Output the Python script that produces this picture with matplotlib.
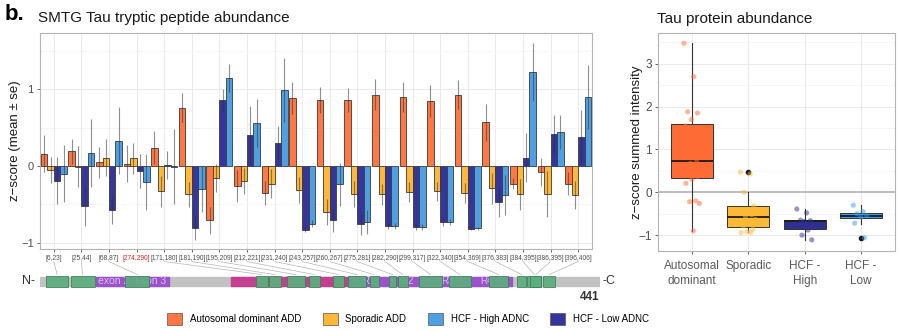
import matplotlib
matplotlib.use("Agg")
import matplotlib.pyplot as plt
from matplotlib.patches import Rectangle, Patch, ConnectionPatch
import numpy as np

plt.rcParams['font.family'] = ['Liberation Sans', 'DejaVu Sans']

# ---------------- peptide-level data ----------------
peptides = ["[6,23]", "[25,44]", "[68,87]", "[274,290]", "[171,180]", "[181,190]",
            "[195,209]", "[212,221]", "[231,240]", "[243,257]", "[260,267]",
            "[275,281]", "[282,290]", "[299,317]", "[322,340]", "[354,369]",
            "[376,383]", "[384,395]", "[386,395]", "[396,406]"]
pep_start = [6, 25, 68, 274, 171, 181, 195, 212, 231, 243, 260, 275, 282, 299, 322, 354, 376, 384, 386, 396]
pep_end = [23, 44, 87, 290, 180, 190, 209, 221, 240, 257, 267, 281, 290, 317, 340, 369, 383, 395, 395, 406]
pep_on_map = [True, True, True, False] + [True] * 16
pep_label_color = ["#4D4D4D"] * 3 + ["#E8231F"] + ["#4D4D4D"] * 16

ad_mean = [0.16, 0.19, 0.05, 0.03, 0.24, 0.76, -0.71, -0.26, -0.35, 0.89, 0.86, 0.86, 0.93, 0.90, 0.85, 0.93, 0.57, -0.23, -0.08, -0.23]
ad_se = [0.24, 0.16, 0.20, 0.24, 0.21, 0.19, 0.17, 0.21, 0.16, 0.21, 0.17, 0.16, 0.20, 0.20, 0.21, 0.19, 0.24, 0.07, 0.18, 0.15]
sp_mean = [-0.05, -0.01, 0.11, 0.10, -0.33, -0.37, -0.16, -0.19, -0.23, -0.31, -0.60, -0.36, -0.37, -0.34, -0.33, -0.35, -0.29, -0.37, -0.37, -0.38]
sp_se = [0.17, 0.27, 0.24, 0.20, 0.20, 0.16, 0.18, 0.17, 0.19, 0.17, 0.17, 0.17, 0.14, 0.13, 0.12, 0.13, 0.20, 0.20, 0.30, 0.18]
low_mean = [-0.19, -0.52, -0.57, -0.07, 0.01, -0.81, 0.86, 0.40, 0.30, -0.83, -0.71, -0.76, -0.78, -0.79, -0.73, -0.82, -0.47, 0.11, 0.42, 0.38]
low_se = [0.31, 0.26, 0.18, 0.22, 0.18, 0.16, 0.15, 0.38, 0.22, 0.03, 0.15, 0.14, 0.04, 0.04, 0.05, 0.02, 0.19, 0.32, 0.25, 0.35]
high_mean = [-0.10, 0.17, 0.33, -0.21, -0.01, -0.30, 1.15, 0.56, 0.99, -0.75, -0.24, -0.73, -0.78, -0.80, -0.73, -0.81, -0.38, 1.23, 0.44, 0.90]
high_se = [0.37, 0.44, 0.44, 0.37, 0.49, 0.30, 0.18, 0.31, 0.42, 0.05, 0.28, 0.16, 0.04, 0.04, 0.04, 0.02, 0.26, 0.38, 0.22, 0.42]

group_names = ["Autosomal dominant ADD", "Sporadic ADD", "HCF - High ADNC", "HCF - Low ADNC"]
c_ad, c_sp, c_high, c_low = "#FF7743", "#FDB83A", "#4F9FE3", "#35359B"

# ---------------- protein domain map ----------------
protein_len = 441
exon_region = (45, 102)
proline_region = (151, 243)
repeat_region = (244, 372)
repeat_labels = ["R1", "R2", "R3", "R4"]
repeat_centers = [259, 290, 321, 352]

# ---------------- summed protein abundance ----------------
box_cats = ["Autosomal\ndominant", "Sporadic", "HCF -\nHigh", "HCF -\nLow"]
box_q1 = [0.33, -0.80, -0.86, -0.61]
box_med = [0.74, -0.58, -0.67, -0.55]
box_q3 = [1.60, -0.32, -0.65, -0.48]
box_lo = [-0.90, -0.93, -1.11, -0.75]
box_hi = [3.48, 0.00, -0.39, -0.30]
box_out = [[], [0.47], [], [-1.06]]
pts_ad = [3.48, 2.70, 1.88, 1.85, 1.70, 1.55, 1.24, 1.10, 1.00, 0.87, 0.83, 0.72,
          0.68, 0.65, 0.52, 0.46, 0.37, 0.30, 0.21, -0.20, -0.22, -0.26, -0.90]
pts_sp = [0.47, 0.43, 0.00, -0.32, -0.40, -0.45, -0.53, -0.58, -0.63, -0.72, -0.79,
          -0.86, -0.92, -0.94, -0.94]
pts_high = [-0.39, -0.48, -0.65, -0.66, -0.68, -0.80, -0.88, -1.00, -1.11]
pts_low = [-0.30, -0.45, -0.50, -0.55, -0.58, -0.72, -1.06]
box_colors = ["#FF6B35", "#FDB934", "#2F2F8F", "#3D9CE8"]

W, H = 900, 331
fig = plt.figure(figsize=(W / 100, H / 100), dpi=100)


def px_axes(x0, y0, x1, y1):
    return fig.add_axes([x0 / W, 1 - y1 / H, (x1 - x0) / W, (y1 - y0) / H])


grid_major = "#E6E6E6"
grid_minor = "#F2F2F2"
spine_c = "#B3B3B3"
tick_c = "#4D4D4D"

# ---------------- left panel: bar chart ----------------
ax = px_axes(40, 33, 592, 249)
n = len(peptides)
x = np.arange(1, n + 1)
bw = 0.235
series = [(ad_mean, ad_se, c_ad), (sp_mean, sp_se, c_sp),
          (low_mean, low_se, c_low), (high_mean, high_se, c_high)]
for k, (m, s, c) in enumerate(series):
    xs = x + (k - 1.5) * bw
    m = np.asarray(m)
    s = np.asarray(s)
    ax.bar(xs, m, width=bw, color=c, edgecolor="#3A3A3A", linewidth=0.6, zorder=3)
    ax.vlines(xs, m - s, m + s, color="#333333", alpha=0.55, linewidth=0.8, zorder=4)

ax.set_xlim(0.5, n + 0.5)
ax.set_ylim(-1.082, 1.734)
ax.set_yticks([-1, 0, 1])
ax.set_yticklabels(["\u22121", "0", "1"])
ax.set_yticks([-0.5, 0.5, 1.5], minor=True)
ax.set_xticks(x)
ax.grid(which="major", color=grid_major, linewidth=0.6, zorder=0)
ax.grid(which="minor", axis="y", color=grid_minor, linewidth=0.5, zorder=0)
ax.set_axisbelow(True)
for sp in ax.spines.values():
    sp.set_color(spine_c)
    sp.set_linewidth(0.8)
ax.tick_params(axis="y", labelsize=8, colors=tick_c, length=2.5, width=0.6, pad=2)
ax.tick_params(axis="x", color=tick_c, length=2.5, width=0.6, pad=1.5)
ax.tick_params(which="minor", length=0)
ax.set_xticklabels(peptides, fontsize=4.8)
for lab, col in zip(ax.get_xticklabels(), pep_label_color):
    lab.set_color(col)

# ---------------- protein domain map ----------------
pm = px_axes(40, 268, 600, 298)
pm.set_xlim(1, protein_len)
pm.set_ylim(0, 1)
pm.axis("off")
bar_lo, bar_hi = 0.40, 0.70
pm.add_patch(Rectangle((1, bar_lo), protein_len - 1, bar_hi - bar_lo, color="#C2C2C2", zorder=1))
pm.add_patch(Rectangle((exon_region[0], bar_lo), exon_region[1] - exon_region[0], bar_hi - bar_lo,
                       color="#9C52C9", zorder=2))
pm.add_patch(Rectangle((proline_region[0], bar_lo), proline_region[1] - proline_region[0], bar_hi - bar_lo,
                       color="#C2408F", zorder=2))
pm.add_patch(Rectangle((repeat_region[0], bar_lo), repeat_region[1] - repeat_region[0], bar_hi - bar_lo,
                       color="#9C52C9", zorder=2))
pm.text(59, 0.55, "exon 2", color="#D9C2F2", fontsize=7.5, ha="center", va="center", zorder=3)
pm.text(88, 0.55, "exon 3", color="#D9C2F2", fontsize=7.5, ha="center", va="center", zorder=3)
for lab, cx in zip(repeat_labels, repeat_centers):
    pm.text(cx, 0.55, lab, color="#D9C2F2", fontsize=7, ha="center", va="center", zorder=3)
for s0, s1, on in zip(pep_start, pep_end, pep_on_map):
    if on:
        pm.add_patch(Rectangle((s0, 0.37), s1 - s0, 0.36, facecolor="#5BAE7E", edgecolor="#3E7E58",
                               linewidth=0.6, alpha=0.92, zorder=4))
pm.text(-3, 0.55, "N-", fontsize=9, color="#333333", ha="right", va="center")
pm.text(protein_len + 2, 0.55, "-C", fontsize=9, color="#333333", ha="left", va="center")
pm.text(protein_len, 0.02, "441", fontsize=8.5, color="#333333", ha="right", va="center", weight="bold")

# connectors from peptide labels to the protein map
for i, (s0, s1, on) in enumerate(zip(pep_start, pep_end, pep_on_map)):
    if not on:
        continue
    con = ConnectionPatch(xyA=(x[i], -0.058), coordsA=ax.get_xaxis_transform(),
                          xyB=((s0 + s1) / 2, 0.78), coordsB=pm.transData,
                          color="#B5B5B5", linewidth=0.5)
    fig.add_artist(con)

# ---------------- right panel: boxplot ----------------
bx = px_axes(658, 33, 895, 251)
stats = []
for i in range(4):
    stats.append(dict(med=box_med[i], q1=box_q1[i], q3=box_q3[i],
                      whislo=box_lo[i], whishi=box_hi[i], fliers=box_out[i]))
bp = bx.bxp(stats, positions=[1, 2, 3, 4], widths=0.75, patch_artist=True, showcaps=False,
            boxprops=dict(edgecolor="#333333", linewidth=0.7),
            whiskerprops=dict(color="#333333", linewidth=0.8),
            medianprops=dict(color="#1A1A1A", linewidth=1.3),
            flierprops=dict(marker="o", markersize=3, markerfacecolor="#1A1A1A",
                            markeredgecolor="#1A1A1A"))
for patch, c in zip(bp["boxes"], box_colors):
    patch.set_facecolor(c)
    patch.set_zorder(2)
for pts, pos, c in zip([pts_ad, pts_sp, pts_high, pts_low], [1, 2, 3, 4], box_colors):
    pts = np.asarray(pts)
    offs = ((np.arange(len(pts)) * 0.618034) % 1 - 0.5) * 0.28
    bx.scatter(pos + offs, pts, s=14, color=c, alpha=0.5, edgecolors="none", zorder=5)
bx.axhline(0, color="#BDBDBD", linewidth=1.4, zorder=1)
bx.set_xlim(0.4, 4.6)
bx.set_ylim(-1.37, 3.72)
bx.set_yticks([-1, 0, 1, 2, 3])
bx.set_yticklabels(["\u22121", "0", "1", "2", "3"])
bx.set_yticks([-0.5, 0.5, 1.5, 2.5, 3.5], minor=True)
bx.set_xticks([1, 2, 3, 4])
bx.grid(which="major", color=grid_major, linewidth=0.6, zorder=0)
bx.grid(which="minor", axis="y", color=grid_minor, linewidth=0.5, zorder=0)
bx.set_axisbelow(True)
for sp in bx.spines.values():
    sp.set_color(spine_c)
    sp.set_linewidth(0.8)
bx.tick_params(axis="y", labelsize=8.5, colors=tick_c, length=2.5, width=0.6, pad=2)
bx.tick_params(axis="x", labelsize=8.5, colors=tick_c, length=2.5, width=0.6, pad=4)
bx.tick_params(which="minor", length=0)
bx.set_xticklabels(box_cats, fontsize=8.5, color="#5A5A5A", linespacing=1.3)

# ---------------- titles and labels ----------------
fig.text(5 / W, 1 - 15 / H, "b.", fontsize=16, weight="bold", va="center", ha="left")
fig.text(38 / W, 1 - 18 / H, "SMTG Tau tryptic peptide abundance", fontsize=11, va="center", ha="left",
         color="#1A1A1A")
fig.text(657 / W, 1 - 19 / H, "Tau protein abundance", fontsize=11, va="center", ha="left", color="#1A1A1A")
fig.text(15 / W, 1 - 141 / H, "z\u2212score (mean \u00b1 se)", fontsize=9.5, rotation=90,
         va="center", ha="center", color="#1A1A1A")
fig.text(637 / W, 1 - 142 / H, "z\u2212score summed intensity", fontsize=9.5, rotation=90,
         va="center", ha="center", color="#1A1A1A")

# ---------------- legend ----------------
handles = [Patch(facecolor=c, edgecolor="#555555", linewidth=0.5) for c in (c_ad, c_sp, c_high, c_low)]
fig.legend(handles, group_names, loc="center", bbox_to_anchor=(408 / W, 1 - 319 / H), ncol=4,
           frameon=False, fontsize=7, handlelength=1.55, handleheight=1.55, handletextpad=0.8,
           columnspacing=2.2)

fig.savefig("out.png", dpi=100)
